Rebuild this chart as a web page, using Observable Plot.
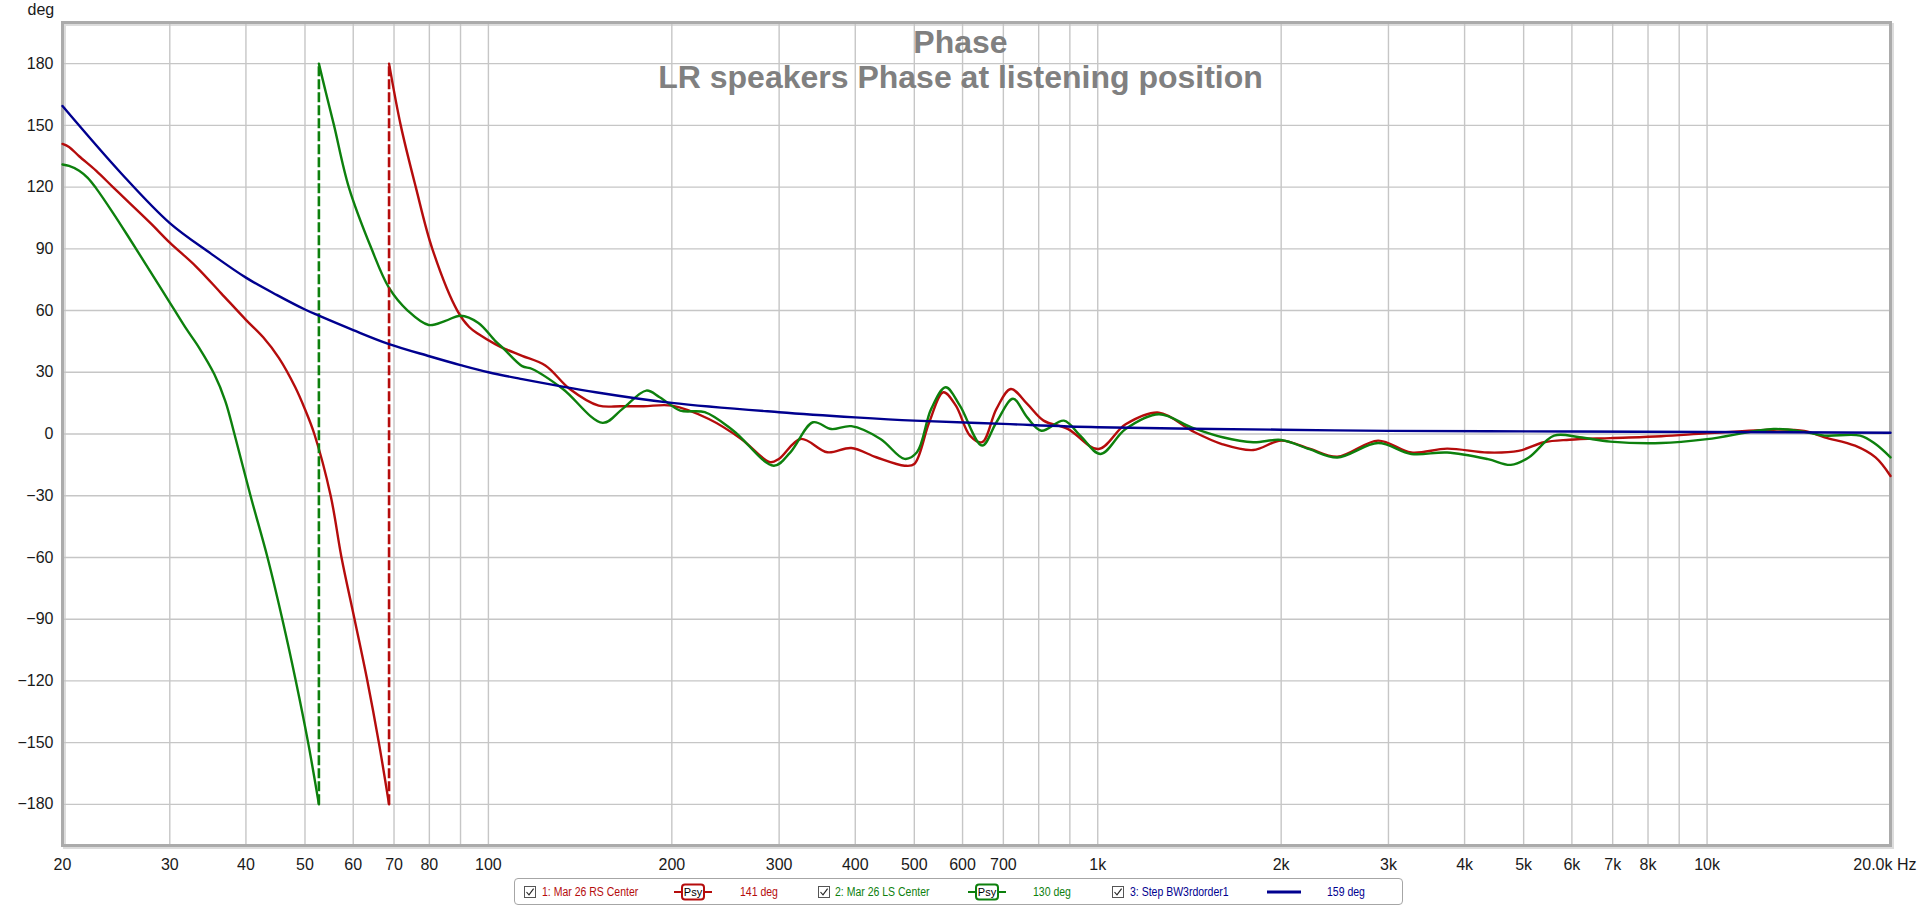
<!DOCTYPE html>
<html>
<head>
<meta charset="utf-8">
<script src="https://cdn.jsdelivr.net/npm/d3@7"></script>
<script src="https://cdn.jsdelivr.net/npm/@observablehq/plot@0.6"></script>
<style>
  html, body { margin: 0; padding: 0; background: #fff; }
  #wrap { position: relative; width: 1920px; height: 906px; overflow: hidden; font-family: "Liberation Sans", Arial, sans-serif; }
  #chart svg { display: block; }
  #legend { position: absolute; left: 514px; top: 878px; width: 889px; height: 27px; box-sizing: border-box;
            border: 1px solid #a6a6a6; border-radius: 4px; background: #fff; }
  #legend .it { position: absolute; top: 0; height: 25px; display: flex; align-items: center; white-space: nowrap; }
  #legend .tx { font-size: 12.5px; transform: scaleX(0.84); transform-origin: left center; }
</style>
</head>
<body>
<div id="wrap">
  <div id="chart"></div>
  <div id="legend"></div>
</div>
<script>
// ---------------- data ----------------
const title = "Phase";
const subtitle = "LR speakers Phase at listening position";
const yUnit = "deg";

const gridFreqs = [20,30,40,50,60,70,80,90,100,200,300,400,500,600,700,800,900,1000,2000,3000,4000,5000,6000,7000,8000,9000,10000,20000];
const labelFreqs = [20,30,40,50,60,70,80,100,200,300,400,500,600,700,900,1000,2000,3000,4000,5000,6000,7000,8000,9000,10000];
const endFreq = 20000;
const endLabel = "20.0k Hz";
const phaseTicks = [-180,-150,-120,-90,-60,-30,0,30,60,90,120,150,180];

const seriesNames = ["1: Mar 26 RS Center", "2: Mar 26 LS Center", "3: Step BW3rdorder1"];
const seriesColors = ["#b50c0c", "#0d800d", "#00008f"];
const seriesNotes = ["141 deg", "130 deg", "159 deg"];

const redFreq = [20,20.5,21.3,22.7,24.2,25.7,28,30,33.1,36.4,40,42.7,45.3,48.2,50,51.8,55.1,57.4,60.3,63.3,66.1,68.7,
  68.7,71.8,76,80.9,88.9,93,96.3,102.6,106.4,113.6,124,136,151.7,165,179.8,200,230,260,290,300,325.5,360,394,433,482,500,529,558,585,617,646,682,720,766,815,894,1003,
  1111,1260,1428,1603,1800,2000,2225,2473,2885,3270,3744,4368,4905,5400,5945,6935,8410,10000,12860,14430,15590,17490,18900,20000];
const redPhase = [141,139.5,135,128,120,112.6,102,93,81.5,68.5,55.5,47,37,22.7,12,0,-30,-60,-90,-120,-150,-180,
  180,150,120,90,60,52,48.6,43.7,41.4,38,33.3,21.9,13.8,13.5,13.5,13.8,7.3,-2.4,-13.7,-12,-2.4,-8.9,-6.8,-11.3,-15.4,-14.6,5.7,20.3,13.8,-0.8,-4,12.2,21.9,14.6,6.5,2.4,-7.3,
  4.7,10.4,1.5,-5,-7.8,-3.2,-7.1,-11,-3.2,-9,-7.1,-9,-8.2,-4,-2.8,-2,-1.1,0.3,2.1,1.5,-1.6,-5.7,-11.4,-20.4];

const greenFreq = [20,20.5,21.3,22,22.7,24.2,25.7,27.4,29.2,30.4,32,33.5,35.5,37,38.3,40.7,43.4,45.9,48.3,50.6,52.7,
  52.7,54,55.8,59,64.3,68.7,73.7,79.8,85,90,96.3,102.6,106,113.6,118,132.5,154,166,181.6,191,206.5,226.5,252.4,294,313,341,365.5,394,440,482,505,533,563,594,646,682,726,766,808,880,936,1011,
  1111,1260,1428,1603,1800,2000,2225,2473,2885,3270,3744,4368,4764,5097,5610,6180,6935,8410,10000,12860,14430,15590,17830,18900,20000];
const greenPhase = [131,130.3,128,124.5,119.5,107.5,95.5,82.4,69.4,61.2,50.7,42,29,16,0,-30,-60,-90,-120,-150,-180,
  180,167,150,120,90,71,60,53,55,57.5,54,45.3,41.4,33,31.6,21.9,5.4,12.2,21.1,17.9,11.4,10.6,1.6,-15.4,-8.9,5.7,2.4,3.8,-2.4,-12.1,-8.9,12.2,22.7,13.8,-5.6,5.7,17.1,8.1,1.6,6.5,-0.8,-9.7,
  2.4,9.6,3.1,-1.6,-4,-2.9,-7.4,-11.4,-4.4,-9.7,-9,-12.2,-15,-11.4,-0.8,-1.6,-3.7,-4.4,-2.5,2.4,1.1,-0.8,-0.8,-4.9,-11.4];

const blueFreq = [20,25,30,35,40,45,50,52.7,60,68.7,80,90,100,113.6,150,200,300,400,500,700,1000,2000,3000,6000,10000,20000];
const bluePhase = [159.4,126.5,102.5,87.8,76,67.5,60.5,57.5,50.5,43.7,37.8,33.5,30,26.7,20.3,15.1,10.6,8.1,6.5,4.9,3.3,2.1,1.5,1.2,1.0,0.6];

// ---------------- build rows ----------------
function rows(name, freqs, phases) {
  let seg = 0;
  return freqs.map((f, i) => {
    if (i > 0 && Math.abs(phases[i] - phases[i - 1]) > 180) seg++;
    return {name, f, p: phases[i], seg: name + seg};
  });
}
function wraps(name, freqs, phases) {
  const out = [];
  for (let i = 1; i < freqs.length; i++) {
    if (Math.abs(phases[i] - phases[i - 1]) > 180) out.push({name, f1: freqs[i - 1], p1: phases[i - 1], f2: freqs[i], p2: phases[i]});
  }
  return out;
}
const red = rows(seriesNames[0], redFreq, redPhase);
const green = rows(seriesNames[1], greenFreq, greenPhase);
const blue = rows(seriesNames[2], blueFreq, bluePhase);
const redWrap = wraps(seriesNames[0], redFreq, redPhase);
const greenWrap = wraps(seriesNames[1], greenFreq, greenPhase);

const fmt = f => f >= 1000 ? (f / 1000) + "k" : String(f);
const font = "Liberation Sans, Arial, sans-serif";

const chart = Plot.plot({
  width: 1920,
  height: 876,
  marginLeft: 62,
  marginRight: 30,
  marginTop: 22,
  marginBottom: 31,
  style: {fontFamily: font, fontSize: "16px", color: "#1a1a1a", background: "#fff"},
  x: {type: "log", domain: [20, 20000], axis: null},
  y: {domain: [-200, 200], axis: null},
  marks: [
    Plot.frame({stroke: "#dcdcdc", strokeWidth: 3, dx: 2, dy: 2}),
    Plot.gridX(gridFreqs, {stroke: "#c6c6c6", strokeOpacity: 1, strokeWidth: 1.4}),
    Plot.gridY(phaseTicks, {stroke: "#c6c6c6", strokeOpacity: 1, strokeWidth: 1.4}),
    Plot.frame({stroke: "#ababab", strokeWidth: 3}),
    Plot.axisY(phaseTicks, {tickSize: 0, tickPadding: 9, fontSize: 16, label: null}),
    Plot.axisX(labelFreqs, {tickSize: 0, tickPadding: 13, fontSize: 16, tickFormat: fmt, label: null}),
    Plot.text([endFreq], {x: d => d, frameAnchor: "bottom", text: () => endLabel, textAnchor: "end", lineAnchor: "top", dx: 26, dy: 13, fontSize: 16}),
    Plot.text([yUnit], {frameAnchor: "top-left", text: d => d, textAnchor: "start", lineAnchor: "bottom", dx: -35, dy: -8, fontSize: 16}),
    Plot.text([title], {frameAnchor: "top", text: d => d, lineAnchor: "bottom", dx: -16, dy: 30, fontSize: 32, fontWeight: "bold", fill: "#808080"}),
    Plot.text([subtitle], {frameAnchor: "top", text: d => d, lineAnchor: "bottom", dx: -16, dy: 65, fontSize: 32, fontWeight: "bold", fill: "#808080"}),
    Plot.line(red, {x: "f", y: "p", z: "seg", stroke: seriesColors[0], strokeWidth: 2.4, curve: "catmull-rom"}),
    Plot.line(green, {x: "f", y: "p", z: "seg", stroke: seriesColors[1], strokeWidth: 2.4, curve: "catmull-rom"}),
    Plot.link(redWrap, {x1: "f1", y1: "p1", x2: "f2", y2: "p2", stroke: seriesColors[0], strokeWidth: 2.6, strokeDasharray: "10,3"}),
    Plot.link(greenWrap, {x1: "f1", y1: "p1", x2: "f2", y2: "p2", stroke: seriesColors[1], strokeWidth: 2.6, strokeDasharray: "10,3"}),
    Plot.line(blue, {x: "f", y: "p", stroke: seriesColors[2], strokeWidth: 2.4, curve: "catmull-rom"})
  ]
});
document.getElementById("chart").appendChild(chart);

// ---------------- legend ----------------
const legend = document.getElementById("legend");
const checkbox = `<svg width="12" height="12" viewBox="0 0 12 12"><rect x="0.5" y="0.5" width="11" height="11" fill="#fff" stroke="#555"/><path d="M2.5 6 L5 8.8 L9.6 2.6" fill="none" stroke="#222" stroke-width="1.1"/></svg>`;
const psy = c => `<svg width="38" height="18" viewBox="0 0 38 18"><line x1="0" y1="9" x2="38" y2="9" stroke="${c}" stroke-width="2"/><rect x="8" y="1.5" width="22" height="15" rx="3" fill="#fff" stroke="${c}" stroke-width="2"/><text x="19" y="13" text-anchor="middle" font-size="11" font-family="${font}" fill="#000">Psy</text></svg>`;
const solid = c => `<svg width="34" height="18" viewBox="0 0 34 18"><line x1="0" y1="9" x2="34" y2="9" stroke="${c}" stroke-width="3"/></svg>`;
const items = [
  {x: 9, html: checkbox}, {x: 27, html: `<span class="tx" style="color:${seriesColors[0]}">${seriesNames[0]}</span>`},
  {x: 159, html: psy(seriesColors[0])}, {x: 225, html: `<span class="tx" style="color:${seriesColors[0]}">${seriesNotes[0]}</span>`},
  {x: 303, html: checkbox}, {x: 320, html: `<span class="tx" style="color:${seriesColors[1]}">${seriesNames[1]}</span>`},
  {x: 453, html: psy(seriesColors[1])}, {x: 518, html: `<span class="tx" style="color:${seriesColors[1]}">${seriesNotes[1]}</span>`},
  {x: 597, html: checkbox}, {x: 615, html: `<span class="tx" style="color:${seriesColors[2]}">${seriesNames[2]}</span>`},
  {x: 752, html: solid(seriesColors[2])}, {x: 812, html: `<span class="tx" style="color:${seriesColors[2]}">${seriesNotes[2]}</span>`}
];
for (const it of items) {
  const d = document.createElement("div");
  d.className = "it";
  d.style.left = it.x + "px";
  d.innerHTML = it.html;
  legend.appendChild(d);
}
</script>
</body>
</html>
